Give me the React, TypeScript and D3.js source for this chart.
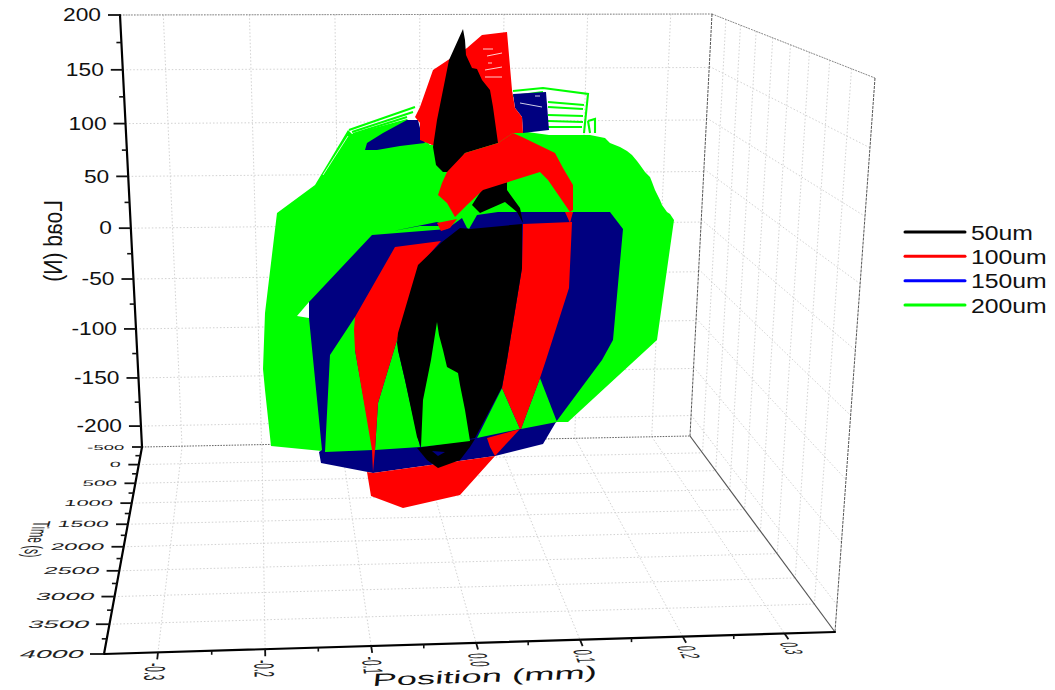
import React from "react";
import * as d3 from "d3";

type P = [number, number];
type Q = [number, number];

// Axis tick values
const positionTicks = [-0.3, -0.2, -0.1, 0, 0.1, 0.2, 0.3];
const positionMinor = [-0.25, -0.15, -0.05, 0.05, 0.15, 0.25];
const loadTicks = [200, 150, 100, 50, 0, -50, -100, -150, -200];
const loadMinor = [175, 125, 75, 25, -25, -75, -125, -175];
const timeTicks = [-500, 0, 500, 1000, 1500, 2000, 2500, 3000, 3500, 4000];
const timeMinor = [-250, 250, 750, 1250, 1750, 2250, 2750, 3250, 3750];
const legendNames = ["50um", "100um", "150um", "200um"];
const legendColors = ["#000000", "#ff0000", "#0000ff", "#00ff00"];

// Series outlines: [position (mm), load (N)]
const green200Body: P[] = [[-.143,14],[-.105,42],[-.072,97],[-.068,93],[-.013,108],[.010,82],[.093,97],[.129,92],[.170,92],[.185,89],[.190,84],[.200,80],[.207,76],[.212,72],[.217,66],[.220,62],[.225,55],[.230,50],[.232,45],[.235,37],[.240,27],[.242,22],[.247,15],[.250,13],[.254,7],[.237,-113],[.148,-195],[.137,-195],[.100,-202],[.057,-211],[0,-220],[-.047,-223],[-.077,-226],[-.098,-224],[-.149,-219],[-.155,-163],[-.157,-142],[-.155,-86]];
const green200Hole: P[] = [[-.123,-89],[-.111,-75],[-.111,-91]];
const green200WiresLeft: P[][] = [[[-.071,97],[-.005,120]],[[-.068,95],[-.007,115]],[[-.067,93],[-.013,110]]];
const green200WiresRight: P[][] = [[[.093,136],[.123,139],[.168,133],[.164,94]],[[.093,131],[.123,135]],[[.128,125],[.164,122]],[[.128,120],[.163,118]],[[.128,112],[.163,111]],[[.128,106],[.163,105]],[[.128,100],[.162,100]],[[.168,106],[.175,108],[.175,94]],[[.168,106],[.170,94]]];
const green200WedgeA: P[] = [[-.065,-90],[-.090,-128],[-.095,-225],[-.047,-223],[-.065,-123]];
const green200WedgeB: P[] = [[-.022,-110],[-.026,-123],[-.042,-176],[-.045,-223],[0,-220],[-.015,-153],[-.022,-123]];
const green200WedgeC: P[] = [[.017,-95],[.011,-133],[.003,-173],[.001,-220],[.050,-214],[.045,-183],[.040,-158],[.038,-146],[.027,-140],[.023,-123],[.019,-108]];
const green200WedgeD: P[] = [[.082,-161],[.057,-211],[.100,-202]];
const green200WedgeE: P[] = [[.120,-151],[.101,-202],[.137,-195]];

const navy150Body: P[] = [[-.111,-75],[-.048,-8],[.027,-2],[.042,9],[.047,-1],[.049,-2],[.057,12],[.078,15],[.190,15],[.203,-2],[.193,-113],[.182,-133],[.136,-195],[.123,-217],[.075,-229],[-.047,-246],[-.099,-236],[-.101,-225],[-.098,-223],[-.111,-91]];
const navy150UpperLeft: P[] = [[-.055,77],[-.053,84],[-.037,94],[-.013,107],[-.002,107],[0,99],[.002,89],[.005,84],[-.020,81],[-.043,77]];
const navy150UpperRight: P[] = [[.093,133],[.126,135],[.129,97],[.103,94],[.102,110],[.095,119]];
const navy150SliverA: P[] = [[-.027,-4],[.017,5],[.027,1],[0,1]];
const navy150SliverB: P[] = [[.003,-13],[.037,-10],[.023,-14]];
const navy150Spot: P[] = [[.012,-224],[.025,-225],[.018,-229]];

const red100Right: P[] = [[.103,3],[.152,5],[.149,-61],[.126,-133],[.120,-151],[.101,-202],[.100,-202],[.082,-161],[.087,-133],[.102,-41]];
const red100Left: P[] = [[-.025,-20],[.021,-14],[0,-38],[-.022,-110],[-.026,-123],[-.042,-176],[-.045,-223],[-.047,-245],[-.048,-223],[-.065,-123],[-.066,-103],[-.065,-90]];
const red100Bottom: P[] = [[-.053,-245],[-.049,-269],[-.017,-281],[.040,-268],[.075,-229],[-.047,-246]];
const red100Notch: P[] = [[.067,-211],[.100,-202],[.075,-229],[.070,-220]];
const red100Tip: P[] = [[.145,15],[.153,15],[.150,4]];
const red100Streak: P[] = [[.017,4],[.037,8],[.030,-1],[.021,-4]];
const red100Upper: P[] = [[.013,157],[.028,167],[.047,179],[.062,192],[.087,195],[.092,137],[.095,119],[.102,110],[.103,94],[.093,94],[.078,84],[.012,82],[0,87],[0,104],[-.005,110],[0,120]];
const red100Arch: P[] = [[.018,32],[.022,44],[.027,55],[.045,74],[.078,84],[.093,94],[.102,90],[.135,74],[.143,59],[.153,42],[.153,17],[.150,15],[.128,47],[.120,55],[.063,37],[.047,22],[.035,10],[.027,24]];

const black50Lower: P[] = [[-.002,-38],[.022,-15],[.040,-1],[.050,-2],[.102,3],[.102,-41],[.087,-133],[.082,-160],[.055,-211],[.001,-220],[-.003,-210],[-.015,-153],[-.022,-123],[-.023,-116],[-.022,-106]];
const black50Foot: P[] = [[-.003,-221],[.055,-212],[.050,-220],[.040,-233],[.018,-241],[.007,-233]];
const black50Upper: P[] = [[.043,198],[.029,167],[.017,107],[.013,80],[.016,62],[.023,55],[.030,55],[.045,74],[.078,84],[.073,120],[.070,137],[.062,147],[.057,158],[.052,159],[.046,172],[.045,187]];
const black50Middle: P[] = [[.087,45],[.063,39],[.052,22],[.060,14],[.085,25],[.097,15],[.103,4],[.100,19],[.087,37]];

const gapLines: P[][] = [[[.065,150],[.082,150]],[[.065,157],[.082,160]],[[.067,171],[.082,174]],[[.063,178],[.073,178]],[[.068,164],[.072,164]],[[.100,124],[.122,120]],[[.115,131],[.120,131]],[[-.097,52],[-.072,91]]];

// Cube corners on screen
const backQuad: Q[] = [[120,15],[712,14],[690,436],[142,447]];
const floorQuad: Q[] = [[142,447],[690,436],[835,632],[104,654]];
const sideQuad: Q[] = [[712,14],[875,78],[835,632],[690,436]];

function homography(q: Q[]) {
  const [[x0,y0],[x1,y1],[x2,y2],[x3,y3]] = q;
  const dx1=x1-x2, dx2=x3-x2, sx=x0-x1+x2-x3, dy1=y1-y2, dy2=y3-y2, sy=y0-y1+y2-y3;
  const den=dx1*dy2-dx2*dy1;
  const g=(sx*dy2-dx2*sy)/den, h=(dx1*sy-sx*dy1)/den;
  const a=x1-x0+g*x1, b=x3-x0+h*x3, d=y1-y0+g*y1, e=y3-y0+h*y3;
  return (u:number,v:number):Q => {
    const w=g*u+h*v+1;
    return [(a*u+b*v+x0)/w,(d*u+e*v+y0)/w];
  };
}

const back = homography(backQuad);
const floor = homography(floorQuad);
const side = homography(sideQuad);
const posU = d3.scaleLinear([-0.35,0.35],[0,1]);
const loadV = d3.scaleLinear([200,-222],[0,1]);
const timeU = d3.scaleLinear([-500,4000],[0,1]);
const seriesX = d3.scaleLinear([-0.42,0.42],[0,840]);
const seriesY = d3.scaleLinear([-300,230],[527,-3]);
const lineGen = d3.line<P>().x(p=>seriesX(p[0])).y(p=>seriesY(p[1]));
const seg = (a:Q,b:Q)=>`M${a[0]},${a[1]}L${b[0]},${b[1]}`;
const poly = (pts:P[])=>lineGen(pts)+"Z";
const FONT = "'Liberation Sans', Arial, sans-serif";
const GRID = "#d2d2d2";
const EDGE = "#555";

const layers: [P[], string][] = [
  [green200Body,"#00ff00"],[green200Hole,"#ffffff"],
  [navy150Body,"#000080"],[navy150UpperLeft,"#000080"],[navy150UpperRight,"#000080"],[navy150SliverA,"#000080"],
  [green200WedgeA,"#00ff00"],[green200WedgeB,"#00ff00"],[green200WedgeD,"#00ff00"],[green200WedgeE,"#00ff00"],
  [red100Bottom,"#ff0000"],[red100Upper,"#ff0000"],[red100Left,"#ff0000"],[red100Right,"#ff0000"],[red100Notch,"#ff0000"],[red100Tip,"#ff0000"],[red100Streak,"#ff0000"],
  [navy150SliverB,"#000080"],
  [black50Lower,"#000000"],[black50Foot,"#000000"],[black50Upper,"#000000"],[black50Middle,"#000000"],
  [navy150Spot,"#000080"],[green200WedgeC,"#00ff00"],[red100Arch,"#ff0000"],
];

export default function App(){
  const gridD: string[] = [];
  positionTicks.forEach(p=>{
    const u=posU(p);
    gridD.push(seg(back(u,0),back(u,1)));
    gridD.push(seg(floor(u,0),floor(u,1)));
  });
  loadTicks.forEach(l=>{
    const v=loadV(l);
    gridD.push(seg(back(0,v),back(1,v)));
    gridD.push(seg(side(0,v),side(1,v)));
  });
  timeTicks.slice(1,-1).forEach(t=>{
    const u=timeU(t);
    gridD.push(seg(floor(0,u),floor(1,u)));
    gridD.push(seg(side(u,0),side(u,1)));
  });

  const leftAxisLoad = (l:number)=>back(0,loadV(l));
  const leftAxisTime = (t:number)=>floor(0,timeU(t));
  const frontAxis = (p:number)=>floor(posU(p),1);

  return (
    <svg width={1055} height={690} viewBox="0 0 1055 690" style={{position:"fixed",left:0,top:0,background:"#fff"}} fontFamily={FONT}>
      <path d={gridD.join("")} fill="none" stroke={GRID} strokeWidth={1} strokeDasharray="1.5 2"/>
      <path d={seg(back(0,0),back(1,0))+seg(back(1,0),side(1,0))} fill="none" stroke="#888" strokeWidth={1} strokeDasharray="1.6 1.2"/>
      <path d={seg(back(0,1),back(1,1))} fill="none" stroke="#666" strokeWidth={1} strokeDasharray="1.6 1.2"/>
      <path d={seg(back(1,0),back(1,1))+seg(side(1,0),side(1,1))} fill="none" stroke={EDGE} strokeWidth={1} strokeDasharray="3 1"/>
      <path d={seg(floor(1,0),floor(1,1))} fill="none" stroke={EDGE} strokeWidth={1.2}/>

      {/* series */}
      <g fill="none" stroke="#00ff00" strokeWidth={2.1}>
        {[...green200WiresLeft,...green200WiresRight].map((w,i)=><path key={i} d={lineGen(w)!}/>)}
      </g>
      {layers.map(([pts,c],i)=><path key={i} d={poly(pts)} fill={c}/>)}
      <g fill="none" stroke="#ffffff" strokeWidth={0.9} opacity={0.9}>
        {gapLines.map((w,i)=><path key={i} d={lineGen(w)!}/>)}
      </g>

      {/* axes */}
      <path d={seg(back(0,0),back(0,1))+seg(floor(0,0),floor(0,1))+seg(floor(0,1),floor(1,1))} fill="none" stroke="#000" strokeWidth={2.2} strokeLinecap="round"/>

      {/* load axis */}
      {loadMinor.map(l=>{const [x,y]=leftAxisLoad(l);return <line key={l} x1={x-5} x2={x} y1={y} y2={y} stroke="#111" strokeWidth={1.6}/>;})}
      {loadTicks.map(l=>{const [x,y]=leftAxisLoad(l);return <g key={l}>
        <line x1={x-12} x2={x} y1={y} y2={y} stroke="#111" strokeWidth={1.8}/>
        <text transform={`translate(${x-19},${y}) scale(1.3,1)`} textAnchor="end" dy="0.36em" fontSize={17.5} fill="#111">{l}</text>
      </g>;})}
      <text transform="translate(62,200) matrix(0,1,1.2,0,0,0)" fontSize={21} fill="#111">Load (N)</text>

      {/* time axis */}
      {timeMinor.map(t=>{const [x,y]=leftAxisTime(t);return <line key={t} x1={x-5} x2={x} y1={y} y2={y} stroke="#111" strokeWidth={1.6}/>;})}
      {timeTicks.map(t=>{const [x,y]=leftAxisTime(t);const u=timeU(t);
        const sx=1.85+u; const sy=0.72+0.42*u; const sk=-(5+22*u); const len=10+4*u;
        return <g key={t}>
          <line x1={x-len} x2={x} y1={y} y2={y} stroke="#111" strokeWidth={1.8}/>
          <text transform={`translate(${x-len-8},${y+3.5*sy}) skewX(${sk}) scale(${sx},${sy})`} textAnchor="end" fontSize={10} fill="#222">{t}</text>
        </g>;})}
      <text transform="translate(34,521) matrix(-0.3,1,-2.4,0,0,0)" fontSize={10} fill="#222">Time (s)</text>

      {/* position axis */}
      {positionMinor.map(p=>{const [x,y]=frontAxis(p);return <line key={p} x1={x} x2={x} y1={y} y2={y+4} stroke="#111" strokeWidth={1.6}/>;})}
      {positionTicks.map(p=>{const [x,y]=frontAxis(p);const u=posU(p);
        const [bx,by]=floor(u,0.6);
        let dx=x-bx, dy=y-by; const n=Math.hypot(dx,dy); dx/=n; dy/=n;
        const up=2.9-0.5*u;
        return <g key={p}>
          <line x1={x} x2={x+dx*7} y1={y} y2={y+dy*7} stroke="#111" strokeWidth={1.8}/>
          <text transform={`translate(${x+dx*10-11},${y+dy*10+1}) matrix(${dx},${dy},${-up},0.07,0,0)`} fontSize={10} fill="#222">{p.toFixed(1)}</text>
        </g>;})}
      <text transform="translate(372,686) rotate(-2) skewX(-8) scale(2.08,1)" fontSize={17.5} fill="#111">Position (mm)</text>

      {/* legend */}
      {legendNames.map((n,i)=>{const y=d3.scaleLinear([0,3],[232,305])(i);return <g key={n}>
        <line x1={905} x2={965} y1={y} y2={y} stroke={legendColors[i]} strokeWidth={3} strokeLinecap="round"/>
        <text transform={`translate(971,${y}) scale(1.18,1)`} dy="0.36em" fontSize={21} fill="#111">{n}</text>
      </g>;})}
    </svg>
  );
}
